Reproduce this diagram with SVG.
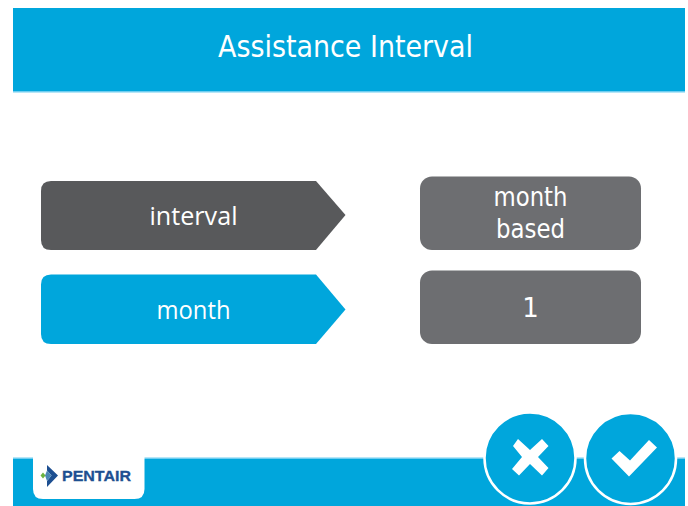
<svg xmlns="http://www.w3.org/2000/svg" width="688" height="506" viewBox="0 0 688 506">
<style>
.t{font-family:"DejaVu Sans","Liberation Sans",sans-serif;fill:#fff;text-anchor:middle;font-size:26px}
.o{font-family:"Open Sans","DejaVu Sans",sans-serif;fill:#fff;text-anchor:middle;font-size:25px}
.v{fill:#6d6e71}
.b{fill:#00a6dc}
</style>
<rect width="688" height="506" fill="#fff"/>
<g id="header"><rect class="b" x="13" y="8" width="672" height="83"/><rect x="13" y="91" width="672" height="1.500" fill="#6fcdf0"/>
<text class="t" x="345.500" y="57" style="font-size:31px" textLength="255" lengthAdjust="spacingAndGlyphs">Assistance Interval</text></g>
<g id="label-interval"><path d="M51 181H316L345.500 215L316 250H51Q41 250 41 240V191Q41 181 51 181Z" fill="#58595b"/><text class="o" x="193.500" y="224.500" textLength="88" lengthAdjust="spacingAndGlyphs">interval</text></g>
<g id="label-month"><path class="b" d="M51 274.500H316L345.500 309.500L316 344H51Q41 344 41 334V284.500Q41 274.500 51 274.500Z"/><text class="o" x="193.500" y="318.500" textLength="74" lengthAdjust="spacingAndGlyphs">month</text></g>
<g id="value-mode"><rect class="v" x="420" y="176.500" width="221" height="73.500" rx="12"/><text class="t" x="530.500" y="206" textLength="74" lengthAdjust="spacingAndGlyphs">month</text><text class="t" x="530.500" y="237.500" textLength="69" lengthAdjust="spacingAndGlyphs">based</text></g>
<g id="value-number"><rect class="v" x="420" y="270.500" width="221" height="73.500" rx="12"/><text class="t" x="530.500" y="317">1</text></g>
<g id="footer"><rect class="b" x="13" y="458" width="672" height="48"/><rect x="13" y="457.500" width="672" height="1.500" fill="#6fcdf0"/></g>
<g id="logo"><path d="M33 457H144.500V489Q144.500 499 134.500 499H43Q33 499 33 489Z" fill="#fff"/>
<path d="M47 465L58 475.500L47 487V481L51.500 475.500L47 470.500Z" fill="#1d4f91"/>
<path d="M47 470.500L51.500 475.500L47 481L45 475.500Z" fill="#4a86b5"/>
<path d="M40.500 475.500L43 472.500L45.500 475.500L43 478.500Z" fill="#6cb33f"/>
<text x="62" y="481" font-family="Liberation Sans,Arial,sans-serif" font-weight="700" font-size="14.500" fill="#1d4f91" stroke="#1d4f91" stroke-width=".3" textLength="69" lengthAdjust="spacingAndGlyphs">PENTAIR</text></g>
<g id="cancel"><circle class="b" cx="530" cy="458" r="45.500" stroke="#fff" stroke-width="2.500"/><path d="M518 439L530 450L542 439L548.500 446L538 457L548.500 468L542 475.500L530 464L519 475.500L512 469L522 457L513 446Z" fill="#fff"/></g>
<g id="confirm"><circle class="b" cx="630.500" cy="458.500" r="45.500" stroke="#fff" stroke-width="2.500"/><path d="M611.500 458.500L619.500 451L630 460.500L649 440L657 447.500L629 476.500Z" fill="#fff"/></g>
</svg>
